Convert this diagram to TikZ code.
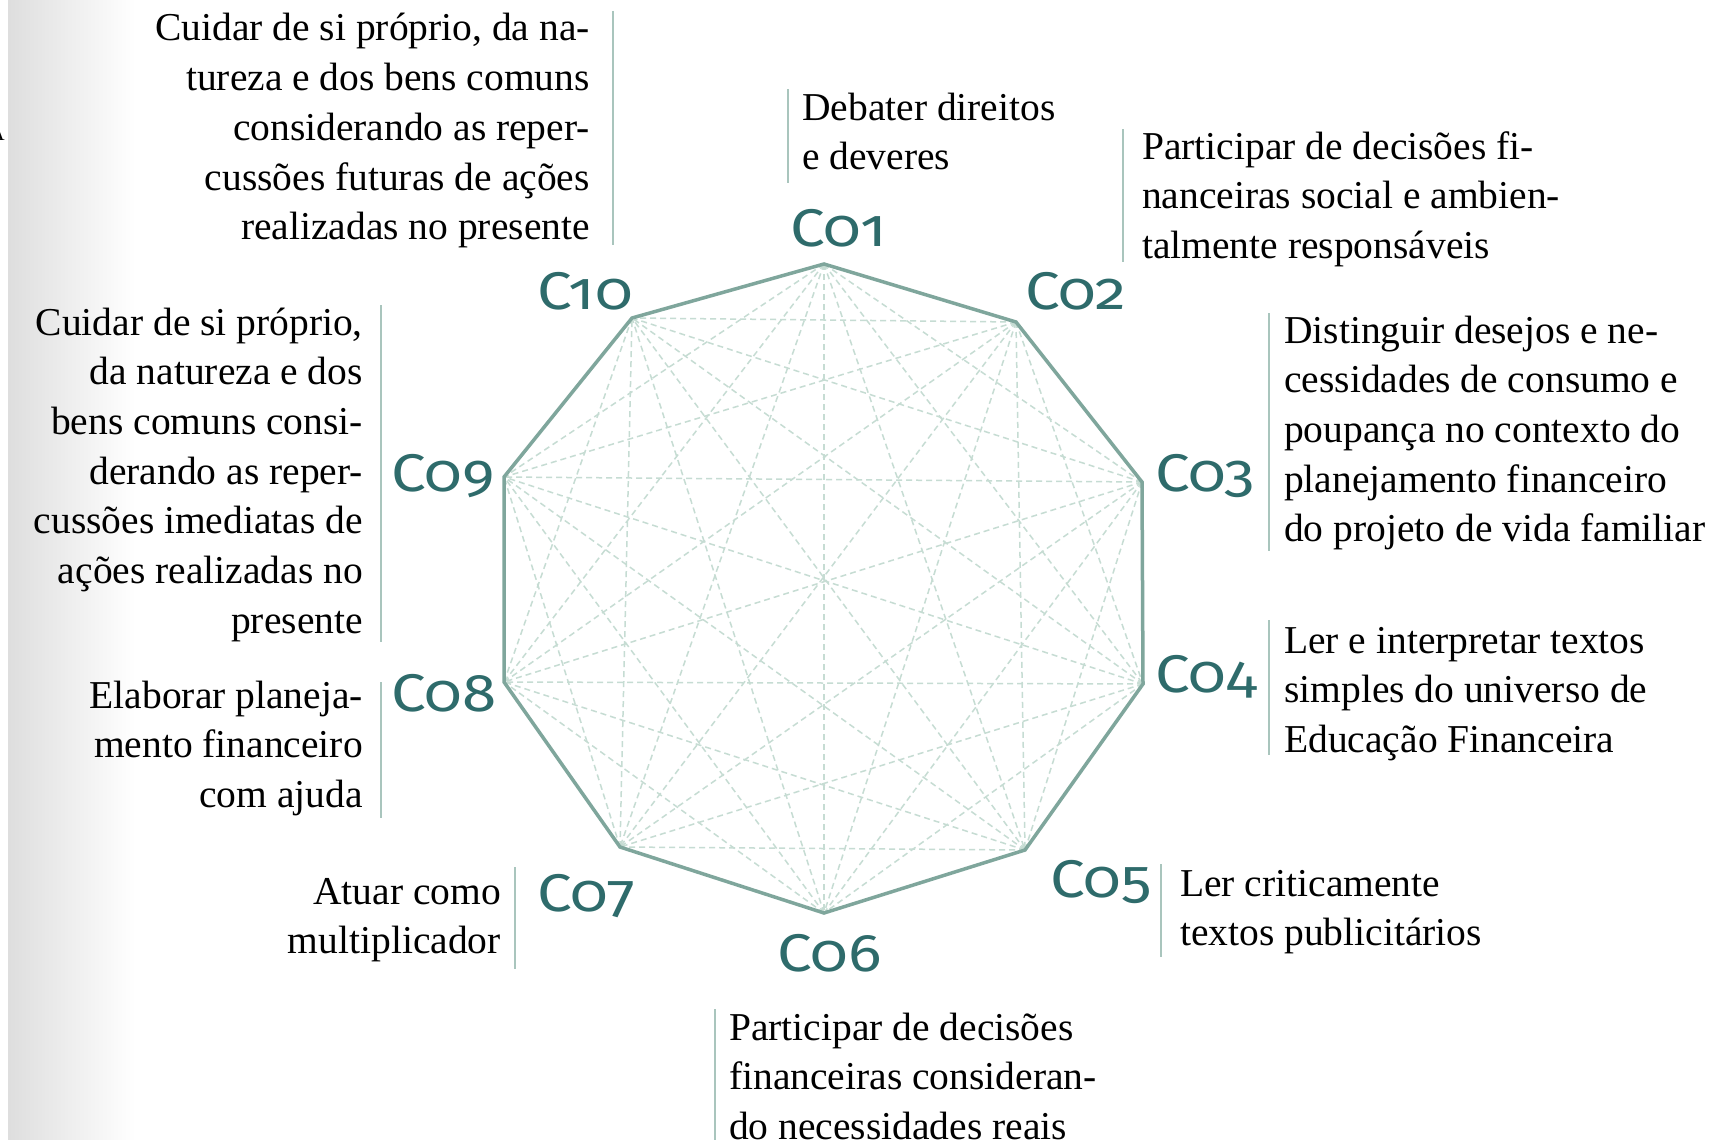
\documentclass[tikz,border=0pt]{standalone}
\usepackage{fontspec}
\setmainfont{Liberation Serif}
\newfontfamily\codefont[Numbers=OldStyle]{Fira Sans}
\definecolor{codecol}{HTML}{2E6B6B}
\definecolor{polycol}{HTML}{7FA69C}
\definecolor{diagcol}{HTML}{C6DCD3}
\definecolor{divcol}{HTML}{A9C5BD}
\newcommand\rblock[1]{\vtop{\baselineskip=49.7pt\lineskiplimit=-100pt\lineskip=0pt\halign{\hfil##\cr#1\crcr}}}
\newcommand\lblock[1]{\vtop{\baselineskip=49.7pt\lineskiplimit=-100pt\lineskip=0pt\halign{##\hfil\cr#1\crcr}}}
\newcommand\codetxt[1]{\scalebox{1.17}[1]{#1}}
\tikzset{
  diag/.style={draw=diagcol, line width=1.5pt, dash pattern=on 6pt off 4pt},
  poly/.style={draw=polycol, line width=3.5pt, line join=miter},
  divider/.style={draw=divcol, line width=2pt},
  code/.style={font=\codefont\fontsize{53}{60}\selectfont, text=codecol, inner sep=0pt, anchor=base west},
  rtext/.style={font=\fontsize{39.5}{49.7}\selectfont, inner sep=0pt, anchor=base east},
  ltext/.style={font=\fontsize{39.5}{49.7}\selectfont, inner sep=0pt, anchor=base west},
}
\begin{document}
\begin{tikzpicture}[x=1pt,y=-1pt]
\useasboundingbox (0,0) rectangle (1711,1140);
\fill[white] (0,0) rectangle (1711,1140);
\shade[left color=black!13, right color=white] (8,0) rectangle (135,1140);
\node[font=\fontsize{22}{24}\selectfont, inner sep=0pt, anchor=base east] (frag) at (5,140) {A};
% vertices
\coordinate (v1) at (824,264);
\coordinate (v2) at (1016,322);
\coordinate (v3) at (1142,482);
\coordinate (v4) at (1143,684);
\coordinate (v5) at (1025,850);
\coordinate (v6) at (824,913);
\coordinate (v7) at (620,847);
\coordinate (v8) at (504,682);
\coordinate (v9) at (504,477);
\coordinate (v10) at (632,318);
% diagonals
\foreach \i in {1,...,9}{
  \pgfmathtruncatemacro\nxt{\i+1}
  \foreach \j in {\nxt,...,10}{
    \draw[diag] (v\i) -- (v\j);
  }
}
\draw[poly] (v1) -- (v2) -- (v3) -- (v4) -- (v5) -- (v6) -- (v7) -- (v8) -- (v9) -- (v10) -- cycle;
% codes
\node[code] (c1) at (790,246) {\codetxt{C01}};
\node[code] (c2) at (1025,309) {\codetxt{C02}};
\node[code] (c3) at (1155,491) {\codetxt{C03}};
\node[code] (c4) at (1155,692) {\codetxt{C04}};
\node[code] (c5) at (1050,897) {\codetxt{C05}};
\node[code] (c6) at (777,971) {\codetxt{C06}};
\node[code] (c7) at (537,911) {\codetxt{C07}};
\node[code] (c8) at (391,711) {\codetxt{C08}};
\node[code] (c9) at (391,491) {\codetxt{C09}};
\node[code] (c10) at (537,309) {\codetxt{C10}};
% dividers
\draw[divider] (613,11) -- (613,245);
\draw[divider] (788,89) -- (788,183);
\draw[divider] (1123,129) -- (1123,262);
\draw[divider] (1269,313) -- (1269,551);
\draw[divider] (1269,620) -- (1269,755);
\draw[divider] (1161,864) -- (1161,957);
\draw[divider] (715,1009) -- (715,1140);
\draw[divider] (515,867) -- (515,969);
\draw[divider] (381,682) -- (381,818);
\draw[divider] (381,305) -- (381,642);
% texts
\node[rtext] (t10) at (590,41) {\rblock{Cuidar de si próprio, da na-\cr tureza e dos bens comuns\cr considerando as reper-\cr cussões futuras de ações\cr realizadas no presente}};
\node[ltext] (t1) at (802,120) {\lblock{Debater direitos\cr e deveres}};
\node[ltext] (t2) at (1142,159) {\lblock{Participar de decisões fi-\cr nanceiras social e ambien-\cr talmente responsáveis}};
\node[ltext] (t3) at (1284,343) {\lblock{Distinguir desejos e ne-\cr cessidades de consumo e\cr poupança no contexto do\cr planejamento financeiro\cr do projeto de vida familiar}};
\node[ltext] (t4) at (1284,653) {\lblock{Ler e interpretar textos\cr simples do universo de\cr Educação Financeira}};
\node[ltext] (t5) at (1180,896) {\lblock{Ler criticamente\cr textos publicitários}};
\node[ltext] (t6) at (729,1040) {\lblock{Participar de decisões\cr financeiras consideran-\cr do necessidades reais}};
\node[rtext] (t7) at (501,904) {\rblock{Atuar como\cr multiplicador}};
\node[rtext] (t8) at (363,708) {\rblock{Elaborar planeja-\cr mento financeiro\cr com ajuda}};
\node[rtext] (t9) at (363,335) {\rblock{Cuidar de si próprio,\cr da natureza e dos\cr bens comuns consi-\cr derando as reper-\cr cussões imediatas de\cr ações realizadas no\cr presente}};
\end{tikzpicture}
\end{document}
